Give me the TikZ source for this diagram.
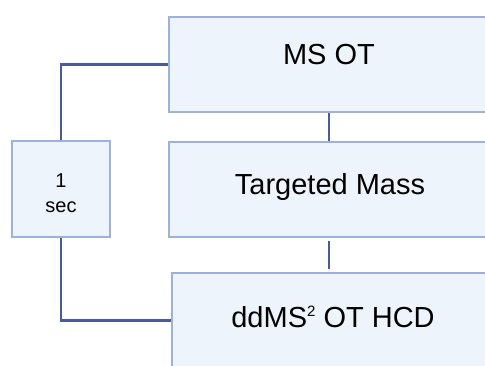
\documentclass[tikz,border=0pt]{standalone}
\usepackage{fontspec}
\setmainfont{Liberation Sans}
\definecolor{boxfill}{HTML}{EEF4FC}
\definecolor{boxline}{HTML}{9CB2DD}
\definecolor{linkline}{HTML}{4B5A9B}

\tikzset{x=1pt,y=-1pt,
  stage/.style={draw=boxline,fill=boxfill,line width=2.6pt,minimum width=320pt,minimum height=95pt,inner sep=0pt},
  timer/.style={draw=boxline,fill=boxfill,line width=2.6pt,minimum width=98pt,minimum height=96pt,inner sep=0pt},
  big/.style={font=\fontsize{29}{32}\selectfont,anchor=base,inner sep=0pt},
  small/.style={font=\fontsize{20}{25}\selectfont,align=center,inner sep=0pt},
  link/.style={draw=linkline,line width=2.6pt}
}

\begin{document}
\begin{tikzpicture}
    \useasboundingbox (0,0) rectangle (485,365);
    \clip (0,0) rectangle (485,365);

    \node[stage] (ms) at (329,64.5) {};
    \node[stage] (tm) at (329,189.5) {};
    \node[stage] (dd) at (332,320.5) {};
    \node[timer] (sec) at (61,189) {};

    \node[big] (msT) at (329,64) {MS OT};
    \node[big] (tmT) at (330,194) {Targeted Mass};
    \node[big] (ddT) at (333,327) {ddMS\raisebox{0.36em}{\fontsize{15}{15}\selectfont 2} OT HCD};
    \node[small] (secT) at (61,193) {1\\sec};

    \path[link] (ms.south) -- (tm.north);
    \path[link,shorten <=3pt,shorten >=3pt] (tm.south) -- (tm.south |- dd.north);
    \path[link] (ms.west) -| (sec.north);
    \path[link] (sec.south) |- (dd.west);
\end{tikzpicture}
\end{document}
